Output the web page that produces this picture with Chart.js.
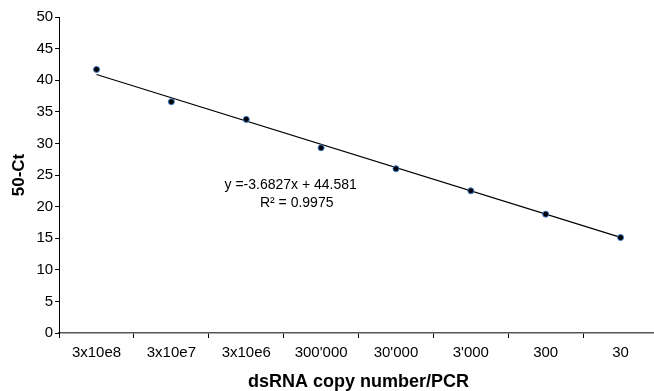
<!DOCTYPE html>
<html>
<head>
<meta charset="utf-8">
<script src="https://cdn.jsdelivr.net/npm/chart.js@4/dist/chart.umd.min.js"></script>
<style>
  html, body { margin: 0; padding: 0; background: #fff; overflow: hidden; }
  #box { width: 663px; height: 391px; }
</style>
</head>
<body>
<div id="box"><canvas id="chart"></canvas></div>
<script>
let copyLabels = ["3x10e8", "3x10e7", "3x10e6", "300'000", "30'000", "3'000", "300", "30"];
let ctValues = [41.7, 36.6, 33.8, 29.3, 26.0, 22.5, 18.8, 15.1];
// trendline end points (y = -3.6827x + 44.581)
let trendValues = [40.9, null, null, null, null, null, null, 15.12];
let yTicks = [0, 5, 10, 15, 20, 25, 30, 35, 40, 45, 50];
let equationText = "y =-3.6827x + 44.581";
let rSquaredText = "R\u00B2 = 0.9975";

let fontName = "'Liberation Sans', Arial, sans-serif";

let equationPlugin = {
	id: "equation",
	afterDatasetsDraw: function (chart) {
		let ctx = chart.ctx;
		let x = chart.scales.x;
		let y = chart.scales.y;
		let cx = (x.getPixelForValue(2) + x.getPixelForValue(3)) / 2 + 7;
		ctx.save();
		ctx.fillStyle = "#000";
		ctx.font = "14px " + fontName;
		ctx.textAlign = "center";
		ctx.textBaseline = "middle";
		ctx.fillText(equationText, cx, y.getPixelForValue(23.4));
		ctx.fillText(rSquaredText, cx + 6, y.getPixelForValue(20.5));
		ctx.restore();
	}
};

let config = {
	type: "line",
	data: {
		labels: copyLabels,
		datasets: [{
			label: "trend",
			data: trendValues,
			borderColor: "#000",
			borderWidth: 1.2,
			pointRadius: 0,
			spanGaps: true,
			fill: false,
			order: 2
		}, {
			label: "50-Ct",
			data: ctValues,
			showLine: false,
			pointRadius: 3,
			pointBackgroundColor: "#000",
			pointBorderColor: "#3a78c8",
			pointBorderWidth: 1,
			order: 1
		}]
	},
	options: {
		responsive: true,
		maintainAspectRatio: false,
		animation: false,
		layout: { padding: { top: 17, right: 0, left: 5, bottom: 0 } },
		plugins: {
			legend: { display: false },
			tooltip: { enabled: false }
		},
		scales: {
			x: {
				offset: true,
				grid: { offset: true, drawOnChartArea: false, drawTicks: true, tickLength: 5, color: "#000" },
				border: { color: "#555", width: 1.5 },
				ticks: { color: "#000", font: { size: 15, family: fontName }, maxRotation: 0, padding: 6 },
				title: { display: true, text: "dsRNA copy number/PCR", color: "#000", font: { size: 18, weight: "bold", family: fontName, lineHeight: 1 }, padding: { top: 5, bottom: 0 } }
			},
			y: {
				min: 0,
				max: 50,
				afterBuildTicks: function (axis) {
					axis.ticks = yTicks.map(function (v) { return { value: v }; });
				},
				grid: { drawOnChartArea: false, drawTicks: true, tickLength: 4, color: "#000" },
				border: { color: "#000", width: 1 },
				ticks: { color: "#000", font: { size: 15, family: fontName }, padding: 2 },
				title: { display: true, text: "50-Ct", color: "#000", font: { size: 17, weight: "bold", family: fontName }, padding: { bottom: 5 } }
			}
		}
	},
	plugins: [equationPlugin]
};

let chartCanvas = new Chart(document.getElementById("chart").getContext("2d"), config);
</script>
</body>
</html>
